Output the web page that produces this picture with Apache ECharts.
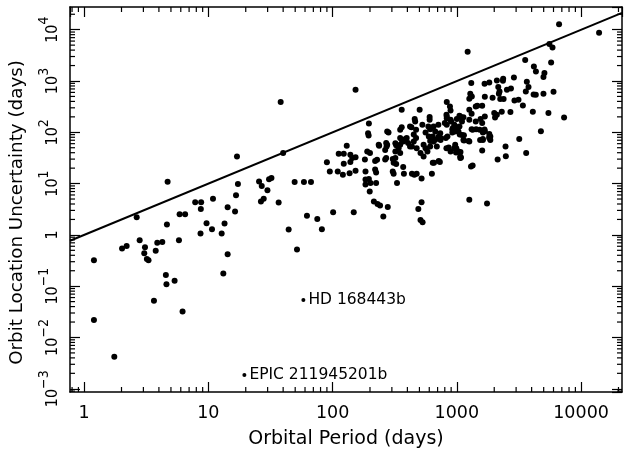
<!DOCTYPE html>
<html>
<head>
<meta charset="utf-8">
<script src="https://cdn.jsdelivr.net/npm/echarts@6/dist/echarts.min.js"></script>
<style>
  html, body { margin: 0; padding: 0; background: #fff; }
  #chart { width: 624px; height: 462px; }
</style>
</head>
<body>
<div id="chart"></div>
<script>
// orbital period (days) and orbit location uncertainty (days)
var periods = [
  1.2, 1.2, 1.75, 2.02, 2.2, 2.65, 2.8, 3.05, 3.09, 3.2, 3.3, 3.65, 3.77, 3.88, 4.26, 4.55, 4.6, 4.64, 4.7, 5.35,
  5.8, 5.87, 6.2, 6.5, 7.84, 8.65, 8.7, 8.75, 9.67, 10.7, 10.9, 12.8, 13.2, 13.5, 14.3, 14.3, 16.4, 16.7, 17.3, 17,
  25.6, 26.5, 26.9, 27.9, 29.9, 30.8, 32.2, 36.8, 38.2, 40, 44.3, 49.5, 51.7, 58.8, 62.2, 67, 75.3, 82, 101, 148,
  153, 256, 215, 230, 241, 278, 490, 520, 510, 530, 1260, 1750, 1222, 6650, 13960, 199, 184, 196, 202, 184,
  224, 330,
  112, 123, 139, 144, 153, 123, 139, 182, 190, 200, 220, 265, 305, 95, 110, 121, 137, 153, 184, 224,
  305, 325, 375, 455, 520, 630, 655, 90,
  360, 502, 196, 193, 195, 282, 130, 237, 270, 272, 325, 360, 350, 360, 350, 386, 431, 458, 462, 450,
  470, 470, 405, 420, 528, 604, 604, 590, 610, 560, 595, 640, 670, 690, 610, 710,
  830, 880, 890, 825, 830, 420, 650, 670, 735, 715, 740, 900, 955, 930, 1065, 1100, 1050, 1000, 1030, 1100,
  1260, 1340, 1260, 1420, 1245, 840, 610, 650, 825, 890, 955, 1030, 1065, 1300, 1340, 540, 560, 580, 510, 540,
  475, 435, 450, 395, 370, 340, 350, 320, 320, 350, 275, 275, 265, 235, 228, 270, 320, 310, 370, 435,
  475, 640, 715, 220, 310,
  5560, 5890, 3550, 5740, 4170, 4330, 5070, 4980, 6000, 4980, 4150, 4320, 3660, 3775, 3590, 2880, 2360, 2350, 2100, 1825,
  1672, 1307, 2155, 2207, 2180, 2530, 2725, 2235, 2380, 1940, 1680, 1283, 1320, 1260, 2910, 3135, 3400, 4090, 5460, 7300,
  4750, 3180, 3615, 2466, 2480, 2130, 2000, 2100, 2030, 2300, 2700, 1553, 1600, 1670, 1620, 1600, 1825, 1315, 1462, 1600,
  1315, 1430, 1067, 985, 960, 1142, 1055, 1000, 1050, 1130, 1010, 965, 920, 1140, 1680, 1825, 1860, 1530, 1620, 1680,
  1540, 1825, 815, 740, 970, 830, 830, 890, 800, 1100, 955, 920, 1130, 1420, 990, 1070, 1080, 730, 1260, 1620,
  1860, 860
];
var uncertainties = [
  0.32, 0.022, 0.0042, 0.54, 0.61, 2.2, 0.79, 0.44, 0.575, 0.34, 0.32, 0.052, 0.49, 0.7, 0.73, 0.166, 0.109, 1.6, 10.8, 0.128,
  0.79, 2.53, 0.032, 2.53, 4.35, 1.06, 3.2, 4.35, 1.69, 1.29, 5.04, 1.06, 0.176, 1.66, 3.47, 0.42, 2.85, 5.95, 9.8, 33.7,
  11, 4.47, 9, 5.04, 7.45, 12.2, 12.8, 4.27, 388, 39.3, 1.27, 10.7, 0.52, 10.7, 2.35, 10.7, 2.05, 1.29, 2.77, 2.77,
  675, 2.28, 4.47, 4.02, 3.73, 3.48, 3.2, 4.35, 1.96, 1.77, 4.82, 4.08, 3720, 12700, 8730, 7.0, 12, 12.3, 10.3, 9.6,
  10.3, 10.3,
  38, 38, 36.5, 31.4, 32.7, 24.4, 26.4, 29.4, 42, 39.3, 27.5, 29.4, 30, 17.2, 17.2, 14.8, 15.9, 17.7, 17.2, 16.4,
  17.2, 24, 15.5, 14.9, 12.5, 15.5, 25.4, 26.1,
  275, 275, 149, 96, 87, 99, 54.6, 54.6, 61.5, 52.9, 56, 126, 112, 71.4, 77, 73.6, 126, 181, 163, 90.6,
  112, 77, 61.5, 52.9, 140, 198, 175, 130, 115, 99, 83, 83, 71.4, 52.9, 52.9, 140,
  390, 320, 265, 220, 203, 130, 130, 104, 96, 83, 77, 163, 140, 121, 203, 163, 130, 121, 104, 89,
  175, 112, 275, 320, 68, 83, 68, 66, 49, 42, 49, 42, 33.7, 21.5, 22.5, 57, 49, 42, 39.3, 33.7,
  49, 53, 66, 77, 66, 49, 57, 61, 42, 39.3, 104, 57, 45, 57, 29, 31.4, 31.4, 25.4, 21, 15.5,
  15.5, 25.4, 27.5, 18.8, 15.5,
  5260, 4520, 2560, 2300, 1925, 1535, 1430, 1195, 617, 564, 547, 540, 967, 762, 625, 1173, 1107, 1010, 1026, 937,
  883, 912, 762, 625, 564, 675, 716, 444, 444, 471, 493, 564, 500, 451, 418, 431, 333, 251, 237, 195,
  105, 73.6, 39.3, 52.9, 34.3, 29.4, 237, 219, 195, 251, 250, 181, 151, 113, 73.6, 44.2, 80.6, 230, 329, 329,
  115, 115, 31.4, 40.4, 49.3, 69.2, 90.6, 181, 210, 197, 124, 104, 115, 88, 203, 93, 83, 112, 99, 105,
  71, 77, 77, 71, 57, 140, 188, 175, 151, 188, 121, 99, 71, 163, 49, 41.4, 32.2, 26.4, 66, 71,
  71, 50.7
];

// the two named planets
var namedPlanets = ['HD 168443b', 'EPIC 211945201b'];
var namedPeriods = [58.2, 19.5];
var namedUncertainties = [0.054, 0.00186];

// axis ranges and tick values
var xMin = 0.77, xMax = 21350;
var yMin = 8.65e-4, yMax = 27700;
var minorSteps = [2, 3, 4, 5, 6, 7, 8, 9];
var decadesX = [0.1, 1, 10, 100, 1000, 10000];
var decadesY = [1e-4, 1e-3, 1e-2, 1e-1, 1, 10, 100, 1000, 10000];

var minorX = [], minorY = [];
decadesX.forEach(function (d) {
  minorSteps.forEach(function (s) {
    if (d * s > xMin && d * s < xMax) minorX.push([d * s, yMin]);
  });
});
decadesY.forEach(function (d) {
  minorSteps.forEach(function (s) {
    if (d * s > yMin && d * s < yMax) minorY.push([xMin, d * s]);
  });
});

var points = periods.map(function (p, i) { return [p, uncertainties[i]]; });
var named = namedPlanets.map(function (n, i) { return [namedPeriods[i], namedUncertainties[i], n]; });

var font = 'DejaVu Sans';

function isDecade(v) {
  var e = Math.log10(v);
  return Math.abs(e - Math.round(e)) < 1e-6;
}

function minorTicks(data, horizontal) {
  return {
    type: 'custom',
    silent: true,
    z: 5,
    data: data,
    renderItem: function (params, api) {
      var cs = params.coordSys;
      var pt = api.coord([api.value(0), api.value(1)]);
      var segs;
      if (horizontal) {
        segs = [[pt[0], cs.y + cs.height, pt[0], cs.y + cs.height - 5], [pt[0], cs.y, pt[0], cs.y + 5]];
      } else {
        segs = [[cs.x, pt[1], cs.x + 5, pt[1]], [cs.x + cs.width, pt[1], cs.x + cs.width - 5, pt[1]]];
      }
      return {
        type: 'group',
        children: segs.map(function (s) {
          return {
            type: 'line',
            shape: { x1: s[0], y1: s[1], x2: s[2], y2: s[3] },
            style: { stroke: '#000', lineWidth: 1.2 }
          };
        })
      };
    }
  };
}

var chart = echarts.init(document.getElementById('chart'), null, { renderer: 'canvas' });

var axisLine = { show: true, lineStyle: { color: '#000', width: 1.5 } };
var majorTick = { show: true, inside: true, length: 10, lineStyle: { color: '#000', width: 1.2 } };

chart.setOption({
  animation: false,
  backgroundColor: '#fff',
  grid: { left: 69, right: 2, top: 7, bottom: 70 },
  xAxis: [
    {
      type: 'log', min: xMin, max: xMax, position: 'bottom',
      name: 'Orbital Period (days)', nameLocation: 'middle', nameGap: 38,
      nameTextStyle: { fontFamily: font, fontSize: 19, color: '#000' },
      axisLine: axisLine, axisTick: majorTick, splitLine: { show: false },
      axisLabel: {
        margin: 12, fontFamily: font, fontSize: 17.5, color: '#000',
        showMinLabel: false, showMaxLabel: false,
        formatter: function (v) { return isDecade(v) ? String(Math.round(v)) : ''; }
      }
    },
    {
      type: 'log', min: xMin, max: xMax, position: 'top',
      axisLine: axisLine, axisTick: majorTick, splitLine: { show: false },
      axisLabel: { show: false }
    }
  ],
  yAxis: [
    {
      type: 'log', min: yMin, max: yMax, position: 'left',
      name: 'Orbit Location Uncertainty (days)', nameLocation: 'middle', nameGap: 44, nameRotate: 90,
      nameTextStyle: { fontFamily: font, fontSize: 18.3, color: '#000', padding: [0, 26, 0, 0] },
      axisLine: axisLine, axisTick: majorTick, splitLine: { show: false },
      axisLabel: {
        rotate: 90, margin: 9, color: '#000',
        showMinLabel: false, showMaxLabel: false,
        formatter: function (v) {
          if (!isDecade(v)) return '';
          var e = Math.round(Math.log10(v));
          if (e === 0) return '{base|1}';
          return '{base|10}{sup|' + (e < 0 ? '\u2212' + (-e) : e) + '}';
        },
        rich: {
          base: { fontFamily: 'DejaVu Sans Condensed', fontSize: 16, lineHeight: 24, verticalAlign: 'bottom', color: '#000' },
          sup: { fontFamily: 'DejaVu Sans Condensed', fontSize: 14, lineHeight: 24, verticalAlign: 'top', color: '#000' }
        }
      }
    },
    {
      type: 'log', min: yMin, max: yMax, position: 'right',
      axisLine: axisLine, axisTick: majorTick, splitLine: { show: false },
      axisLabel: { show: false }
    }
  ],
  series: [
    {
      type: 'line',
      data: [[xMin, xMin], [xMax, xMax]],
      symbol: 'none',
      lineStyle: { color: '#000', width: 2 },
      z: 3
    },
    {
      type: 'scatter',
      data: points,
      symbol: 'circle',
      symbolSize: 6,
      itemStyle: { color: '#000', opacity: 1 },
      z: 4
    },
    {
      type: 'scatter',
      data: named,
      symbol: 'circle',
      symbolSize: 4,
      itemStyle: { color: '#000', opacity: 1 },
      label: {
        show: true, position: 'right', distance: 3,
        fontFamily: font, fontSize: 15.5, color: '#000',
        formatter: function (p) { return p.data[2]; }
      },
      z: 4
    },
    minorTicks(minorX, true),
    minorTicks(minorY, false)
  ]
});
</script>
</body>
</html>
